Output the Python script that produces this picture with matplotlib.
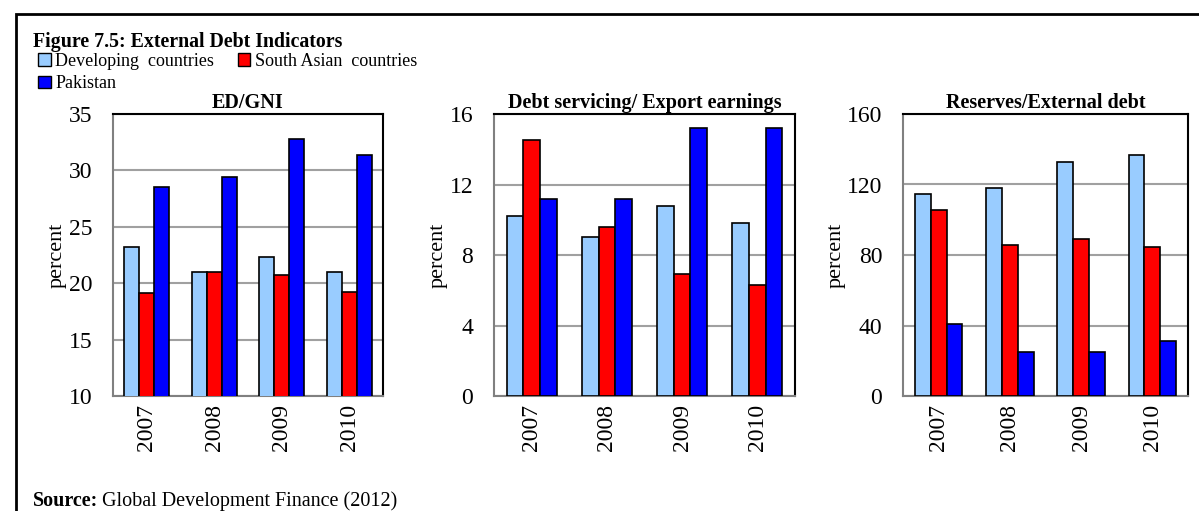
import numpy as np
import matplotlib.pyplot as plt
from matplotlib.patches import Patch, Rectangle

plt.rcParams['font.family'] = ['Liberation Serif', 'DejaVu Serif']

years = ["2007", "2008", "2009", "2010"]
series = ["Developing  countries", "South Asian  countries", "Pakistan"]
colors = ["#99CCFF", "#FF0000", "#0000FF"]

ed_gni = [[23.2, 21.0, 22.3, 21.0],
          [19.1, 21.0, 20.7, 19.2],
          [28.5, 29.4, 32.8, 31.4]]
debt_service = [[10.2, 9.0, 10.8, 9.8],
                [14.5, 9.6, 6.9, 6.3],
                [11.2, 11.2, 15.2, 15.2]]
reserves = [[114.5, 118, 133, 136.5],
            [105.5, 85.5, 89, 84.5],
            [41, 25, 25, 31]]

panels = [
    ("ED/GNI", ed_gni, (10, 35), np.arange(10, 36, 5)),
    ("Debt servicing/ Export earnings", debt_service, (0, 16), np.arange(0, 17, 4)),
    ("Reserves/External debt", reserves, (0, 160), np.arange(0, 161, 40)),
]
# axes boxes in pixels: left, right
boxes = [(113, 383), (494, 795), (903, 1188)]

W, H = 1199, 511
fig = plt.figure(figsize=(W / 100, H / 100), dpi=100)

# outer frame
fig.patches.append(Rectangle((16 / W, -0.1), 1.2, (H - 14) / H + 0.1, transform=fig.transFigure,
                             fill=False, edgecolor="black", linewidth=2))

x = np.arange(len(years))
bw = 0.222
for (title, data, ylim, ticks), (l, r) in zip(panels, boxes):
    ax = fig.add_axes([l / W, (H - 396) / H, (r - l) / W, (396 - 114) / H])
    for i, vals in enumerate(data):
        ax.bar(x + (i - 1) * bw, vals, bw, color=colors[i], edgecolor="black", linewidth=1.2, zorder=3)
    ax.set_xlim(-0.5, 3.5)
    ax.set_ylim(*ylim)
    ax.set_yticks(ticks)
    ax.set_xticks(x)
    ax.set_xticklabels(years, rotation=90, fontsize=17)
    ax.tick_params(axis="y", labelsize=17, length=0, pad=15)
    ax.tick_params(axis="x", length=0, pad=6)
    ax.yaxis.grid(True, color="#A0A0A0", linewidth=1.5, zorder=0)
    for s in ("left", "bottom"):
        ax.spines[s].set_color("#808080")
        ax.spines[s].set_linewidth(1.5)
    for s in ("top", "right"):
        ax.spines[s].set_color("black")
        ax.spines[s].set_linewidth(1.5)
    ax.set_ylabel("percent", fontsize=16, labelpad=1)
    ax.set_title(title, fontsize=14.5, fontweight="bold", pad=4)

fig.text(33 / W, 1 - 47 / H, "Figure 7.5: External Debt Indicators", fontsize=14.3, fontweight="bold",
         ha="left", va="baseline")

handles = [Patch(facecolor=c, edgecolor="black", linewidth=1) for c in colors]
order = [0, 2, 1]
fig.legend([handles[i] for i in order], [series[i] for i in order], loc="upper left",
           bbox_to_anchor=(38 / W, 1 - 53 / H), ncol=2,
           frameon=False, fontsize=13, handlelength=0.7, handleheight=0.7, handletextpad=0.25,
           columnspacing=1.3, labelspacing=0.3, borderaxespad=0, borderpad=0)

t1 = fig.text(33 / W, 1 - 506 / H, "Source:", fontsize=14.5, fontweight="bold", ha="left", va="baseline")
fig.canvas.draw()
bb = t1.get_window_extent()
fig.text(bb.x1 / W + 4 / W, 1 - 506 / H, "Global Development Finance (2012)", fontsize=14.5,
         ha="left", va="baseline")

fig.savefig("out.png", dpi=100)
